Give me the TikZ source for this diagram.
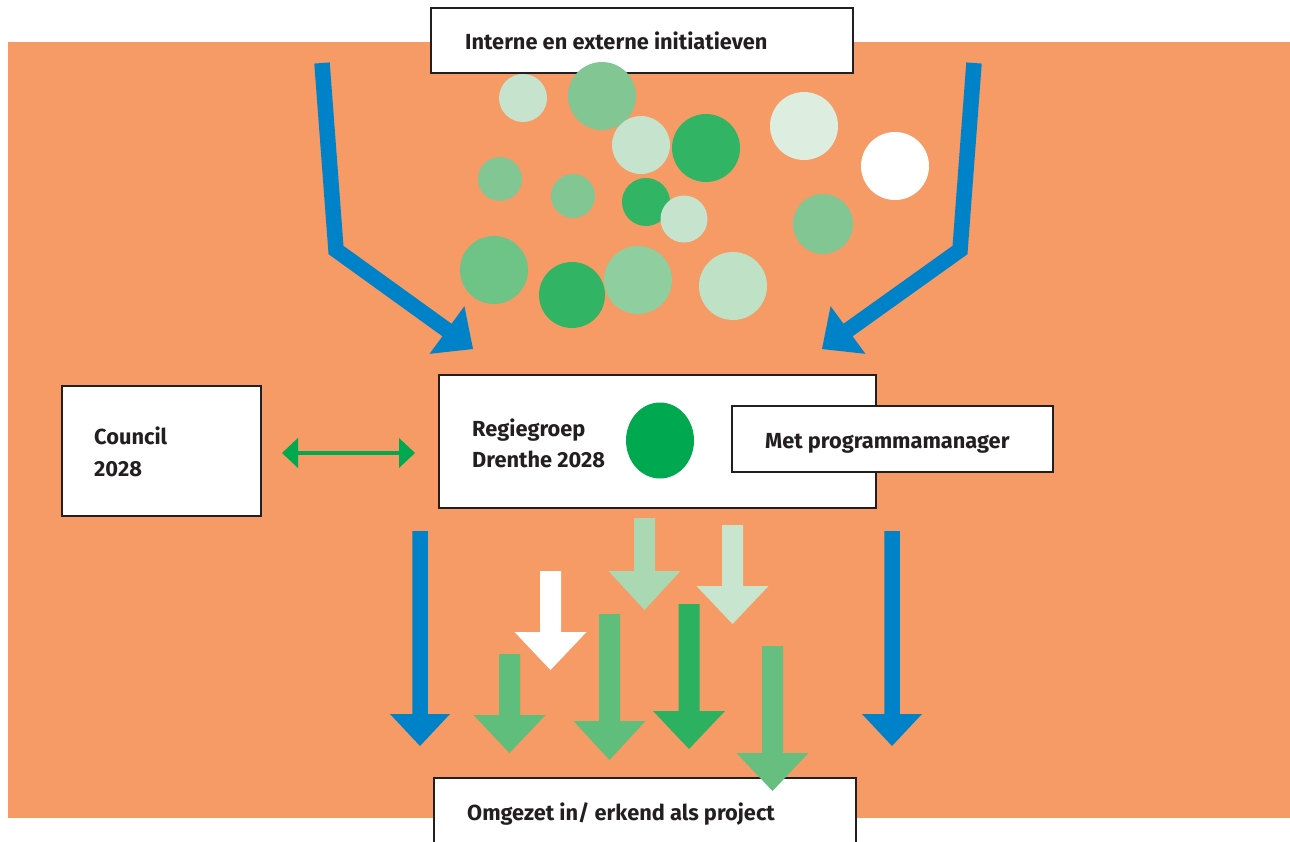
\documentclass[tikz,border=0pt]{standalone}
\usepackage{fontspec}
\setmainfont{Fira Sans}
\usetikzlibrary{calc,shapes.geometric}
\definecolor{bgorange}{HTML}{F69A66}
\definecolor{txt}{HTML}{231F20}
\definecolor{arrblue}{HTML}{0082C8}
\definecolor{dotgreen}{HTML}{00A84F}
\definecolor{cA}{HTML}{C6E4CD}
\definecolor{cB}{HTML}{82C793}
\definecolor{cC}{HTML}{31B463}
\definecolor{cD}{HTML}{6EC386}
\definecolor{cE}{HTML}{8FCE9E}
\definecolor{cF}{HTML}{BFE2C6}
\definecolor{cG}{HTML}{DDEEE0}
\definecolor{gA}{HTML}{A9D8B3}
\definecolor{gB}{HTML}{C8E6CF}
\definecolor{gC}{HTML}{5FBE7B}
\definecolor{gD}{HTML}{2BB160}
\definecolor{gE}{HTML}{66BF7E}
\tikzset{
  box/.style={draw=txt, line width=2pt, fill=white, inner sep=0pt, rectangle},
  lbl/.style={text=txt, inner sep=0pt, anchor=base west, font=\bfseries\fontsize{21.8}{31}\selectfont},
}
\newcommand\myDownArrow[8]{%
  \coordinate (#1-top) at (#3,#4);
  \coordinate (#1-tip) at (#3,#6);
  \fill[#2] (#3-#7,#4) -- (#3-#7,#5) -- (#3-#8,#5) -- (#1-tip) -- (#3+#8,#5) -- (#3+#7,#5) -- (#3+#7,#4) -- cycle;
}
\begin{document}
\begin{tikzpicture}[x=1pt,y=-1pt]
\useasboundingbox (0,0) rectangle (1290,841);
\clip (0,0) rectangle (1290,841);
\fill[bgorange] (8,42) rectangle (1290,818);

% top box
\node[box, minimum width=422pt, minimum height=65pt] (top) at (642,40.5) {};
\node[lbl] (toptext) at (465,49) {Interne en externe initiatieven};

% circles
\fill[cA] (523,98) circle[radius=24pt];
\fill[cB] (602,96) circle[radius=34pt];
\fill[cA] (641,145) circle[radius=29pt];
\fill[cC] (706,148) circle[radius=34pt];
\fill[cB] (500,179) circle[radius=22pt];
\fill[cB] (573,196) circle[radius=22pt];
\fill[cC] (646,202) circle[radius=24pt];
\fill[cA] (684,219) circle[radius=23.5pt];
\fill[cD] (494,270) circle[radius=34pt];
\fill[cC] (572,295) circle[radius=33pt];
\fill[cE] (638,280) circle[radius=34pt];
\fill[cF] (733,286) circle[radius=34pt];
\fill[cG] (804,126) circle[radius=34pt];
\fill[white] (895,166) circle[radius=34pt];
\fill[cB] (823,224) circle[radius=30pt];

% blue funnel arrows
\coordinate (Ltop) at (322,63);
\coordinate (Lcorner) at (336,250);
\coordinate (Lbase) at (447,330);
\coordinate (Ltip) at (473,349);
\coordinate (Rtop) at (974,63);
\coordinate (Rcorner) at (960,250);
\coordinate (Rbase) at (848,330);
\coordinate (Rtip) at (822,349);
\draw[arrblue, line width=15.5pt, line join=miter] (Ltop) -- (Lcorner) -- ($(Lbase)!3pt!(Ltip)$);
\fill[arrblue] ($(Lbase)!29.5pt!90:(Ltip)$) -- (Ltip) -- ($(Lbase)!29.5pt!-90:(Ltip)$) -- cycle;
\draw[arrblue, line width=15.5pt, line join=miter] (Rtop) -- (Rcorner) -- ($(Rbase)!3pt!(Rtip)$);
\fill[arrblue] ($(Rbase)!29.5pt!90:(Rtip)$) -- (Rtip) -- ($(Rbase)!29.5pt!-90:(Rtip)$) -- cycle;

% middle row
\node[box, minimum width=199pt, minimum height=130pt] (council) at (161.5,451) {};
\node[lbl] (council1) at (94,444) {Council};
\node[lbl] (council2) at (94,476) {2028};

\node[box, minimum width=437pt, minimum height=133pt] (regie) at (657.5,441.5) {};
\node[lbl] (regie1) at (472,436) {Regiegroep};
\node[lbl] (regie2) at (472,467) {Drenthe 2028};
\node[ellipse, fill=dotgreen, minimum width=68pt, minimum height=76pt, inner sep=0pt] (dot) at (660,440.5) {};

\node[box, minimum width=321pt, minimum height=66pt] (met) at (892.5,439) {};
\node[lbl] (mettext) at (765,448) {Met programmamanager};

% double arrow council <-> regiegroep
\coordinate (dl) at ($(council.east)+(20,2)$);
\coordinate (dr) at ($(regie.west)+(-23,11.5)$);
\draw[dotgreen, line width=4pt] ($(dl)+(14,0)$) -- ($(dr)+(-14,0)$);
\fill[dotgreen] (dl) -- ++(16,-15) -- ++(0,30) -- cycle;
\fill[dotgreen] (dr) -- ++(-16,-15) -- ++(0,30) -- cycle;

% bottom box
\node[box, minimum width=422pt, minimum height=82pt] (bottom) at (645,819) {};
\node[lbl] (bottomtext) at (467,820) {Omgezet in/ erkend als project};

% down arrows
\myDownArrow{bl}{arrblue}{420}{531}{714}{746}{7.75}{30}
\myDownArrow{br}{arrblue}{892}{531}{714}{746}{7.75}{30}
\myDownArrow{ga}{gA}{644.5}{518}{571}{610}{10.5}{36}
\myDownArrow{gb}{gB}{732.5}{525}{586}{624}{10.5}{36}
\myDownArrow{gw}{white}{550.5}{571}{632}{670}{10.5}{36}
\myDownArrow{gc}{gC}{509.5}{654}{715}{753}{10.5}{36}
\myDownArrow{gd}{gC}{609.5}{614}{721}{760}{10.5}{36}
\myDownArrow{ge}{gD}{689}{604}{711}{749}{10.5}{36}
\myDownArrow{gf}{gE}{772.5}{646}{753}{791}{10.5}{36}
\end{tikzpicture}
\end{document}
